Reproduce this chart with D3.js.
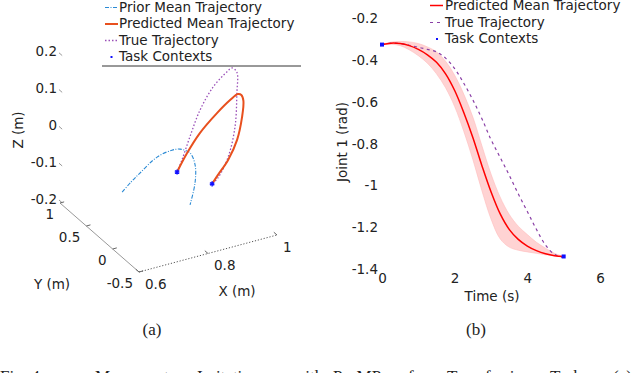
<!DOCTYPE html>
<html><head><meta charset="utf-8">
<script src="https://cdn.jsdelivr.net/npm/d3@7"></script>
<style>body{margin:0;background:#fff}svg{display:block}text{font-family:"DejaVu Sans",sans-serif;fill:#222}</style>
</head><body>
<svg id="c" width="640" height="373"></svg>
<script>
// ---------- Panel (a): 3D trajectories (X, Y, Z in metres) ----------
const priorX = [0.658,0.684,0.702,0.744,0.787,0.803,0.824,0.839,0.831,0.809];
const priorY = [0.2,0.2,0.15,0.1,0.1,0.05,0,0,-0.05,-0.1];
const priorZ = [-0.085,-0.064,-0.038,0.001,0.009,0.014,0.005,-0.032,-0.073,-0.120];
const predX = [0.802,0.831,0.868,0.910,0.948,0.963,0.973,0.979,0.975,0.953,0.927,0.890,0.873];
const predY = [0.1,0.1,0.1,0.05,0.05,0,0,0,0,-0.05,-0.05,-0.1,-0.1];
const predZ = [-0.054,-0.010,0.035,0.085,0.111,0.130,0.125,0.107,0.064,0.014,-0.034,-0.059,-0.079];
const trueX = [0.802,0.816,0.839,0.861,0.899,0.931,0.946,0.960,0.960,0.947,0.927,0.890,0.873];
const trueY = [0.1,0.1,0.1,0.05,0.05,0,0,0,0,-0.05,-0.05,-0.1,-0.1];
const trueZ = [-0.054,-0.025,0.032,0.106,0.159,0.198,0.205,0.190,0.133,0.051,-0.026,-0.067,-0.079];
const ctxX = [0.802,0.873];
const ctxY = [0.1,-0.1];
const ctxZ = [-0.054,-0.079];
const xTicks3 = [0.6,0.8,1], xTickLabels3 = ["0.6","0.8","1"];
const yTicks3 = [-0.5,0,0.5,1], yTickLabels3 = ["-0.5","0","0.5","1"];
const zTicks3 = [-0.2,-0.1,0,0.1,0.2], zTickLabels3 = ["-0.2","-0.1","0","0.1","0.2"];
const legendA = ["Prior Mean Trajectory","Predicted Mean Trajectory","True Trajectory","Task Contexts"];

// ---------- Panel (b): Joint 1 vs time ----------
const jointTimes = [0,0.25,0.5,0.75,1,1.25,1.5,1.75,2,2.25,2.5,2.75,3,3.25,3.5,3.75,4,4.25,4.5,4.75,5];
const predMean = [-0.325,-0.318,-0.320,-0.330,-0.348,-0.374,-0.410,-0.465,-0.545,-0.650,-0.770,-0.905,-1.030,-1.135,-1.210,-1.258,-1.290,-1.312,-1.327,-1.336,-1.340];
const predUpper = [-0.325,-0.313,-0.310,-0.312,-0.320,-0.336,-0.360,-0.405,-0.472,-0.562,-0.672,-0.810,-0.945,-1.055,-1.138,-1.195,-1.235,-1.272,-1.300,-1.325,-1.340];
const predLower = [-0.325,-0.323,-0.330,-0.350,-0.378,-0.414,-0.465,-0.532,-0.622,-0.740,-0.875,-1.025,-1.160,-1.255,-1.295,-1.310,-1.318,-1.325,-1.332,-1.337,-1.340];
const trueJoint = [-0.325,-0.318,-0.320,-0.328,-0.338,-0.348,-0.360,-0.390,-0.440,-0.510,-0.590,-0.680,-0.780,-0.865,-0.950,-1.040,-1.125,-1.210,-1.285,-1.330,-1.345];
const ctxTimes = [0,5];
const ctxJoint = [-0.325,-1.34];
const tTicks = [0,2,4,6], tTickLabels = ["0","2","4","6"];
const jTicks = [-0.2,-0.4,-0.6,-0.8,-1,-1.2,-1.4], jTickLabels = ["-0.2","-0.4","-0.6","-0.8","-1","-1.2","-1.4"];
const legendB = ["Predicted Mean Trajectory","True Trajectory","Task Contexts"];

const svg = d3.select("#c");
svg.append("rect").attr("width",640).attr("height",373).attr("fill","#fff");
const FS = "13.5px";

// ===== Panel (a) =====
const O = [139,272];
const sXx = d3.scaleLinear([0.6,1],[0,138]), sXy = d3.scaleLinear([0.6,1],[0,-37]);
const sYx = d3.scaleLinear([-0.5,1],[0,-79]), sYy = d3.scaleLinear([-0.5,1],[0,-69]);
const sZy = d3.scaleLinear([-0.2,0.2],[0,-147.2]);
const proj = (x,y,z) => [O[0]+sXx(x)+sYx(y), O[1]+sXy(x)+sYy(y)+sZy(z)];
const ga = svg.append("g");

const y0 = proj(0.6,-0.5,-0.2), y1 = proj(0.6,1,-0.2);
ga.append("line").attr("x1",y1[0]).attr("y1",y1[1]).attr("x2",y0[0]).attr("y2",y0[1]).attr("stroke","#999").attr("stroke-width",1);
const x1 = proj(1,-0.5,-0.2);
ga.append("line").attr("x1",y0[0]).attr("y1",y0[1]).attr("x2",x1[0]).attr("y2",x1[1]).attr("stroke","#555").attr("stroke-width",1).attr("stroke-dasharray","1.2,1.8");

zTicks3.forEach((z,i)=>{
  const p = proj(0.6,1,z), q = proj(0.6,0.94,z);
  ga.append("line").attr("x1",p[0]-1).attr("y1",p[1]-3).attr("x2",q[0]-1).attr("y2",q[1]-3).attr("stroke","#999");
  ga.append("text").attr("x",p[0]-3).attr("y",p[1]-3.5).attr("text-anchor","end").attr("dominant-baseline","middle").style("font-size",FS).text(zTickLabels3[i]);
});
yTicks3.forEach((y,i)=>{
  const p = proj(0.6,y,-0.2), q = proj(0.612,y,-0.2);
  ga.append("line").attr("x1",p[0]).attr("y1",p[1]).attr("x2",q[0]).attr("y2",q[1]).attr("stroke","#666");
  ga.append("text").attr("x",p[0]-6).attr("y",p[1]+11.5).attr("text-anchor","end").attr("dominant-baseline","middle").style("font-size",FS).text(yTickLabels3[i]);
});
xTicks3.forEach((x,i)=>{
  const p = proj(x,-0.5,-0.2), q = proj(x,-0.44,-0.2);
  ga.append("line").attr("x1",p[0]).attr("y1",p[1]).attr("x2",q[0]).attr("y2",q[1]).attr("stroke","#666");
  ga.append("text").attr("x",p[0]+6).attr("y",p[1]+12.5).attr("text-anchor","start").attr("dominant-baseline","middle").style("font-size",FS).text(xTickLabels3[i]);
});
ga.append("text").attr("x",52).attr("y",285).attr("text-anchor","middle").attr("dominant-baseline","middle").style("font-size",FS).text("Y (m)");
ga.append("text").attr("x",237).attr("y",292).attr("text-anchor","middle").attr("dominant-baseline","middle").style("font-size",FS).text("X (m)");
ga.append("text").attr("transform","translate(19,130) rotate(-90)").attr("text-anchor","middle").attr("dominant-baseline","middle").style("font-size",FS).text("Z (m)");

const line3 = d3.line().curve(d3.curveCatmullRom.alpha(0.5));
const pts = (X,Y,Z) => X.map((x,i)=>proj(x,Y[i],Z[i]));
ga.append("path").attr("d",line3(pts(priorX,priorY,priorZ))).attr("fill","none").attr("stroke","#2b8ad4").attr("stroke-width",1.1).attr("stroke-dasharray","4,1.5,1,1.5");
ga.append("path").attr("d",line3(pts(trueX,trueY,trueZ))).attr("fill","none").attr("stroke","#9a4fb8").attr("stroke-width",1.3).attr("stroke-dasharray","1.5,2");
ga.append("path").attr("d",line3(pts(predX,predY,predZ))).attr("fill","none").attr("stroke","#e8501e").attr("stroke-width",2);
const star = d3.symbol(d3.symbolAsterisk,18);
pts(ctxX,ctxY,ctxZ).forEach(p=>{
  ga.append("path").attr("d",star()).attr("transform",`translate(${p[0]},${p[1]})`).attr("fill","none").attr("stroke","#1010ff").attr("stroke-width",1.4);
});

const legA = ga.append("g");
const laY = [7.5,24,40.5,57];
legendA.forEach((t,i)=>{
  legA.append("text").attr("x",119).attr("y",laY[i]).attr("dominant-baseline","middle").style("font-size",FS).text(t);
});
legA.append("line").attr("x1",105).attr("x2",118).attr("y1",laY[0]).attr("y2",laY[0]).attr("stroke","#2b8ad4").attr("stroke-width",1.2).attr("stroke-dasharray","4,1.5,1,1.5");
legA.append("line").attr("x1",105).attr("x2",118).attr("y1",laY[1]).attr("y2",laY[1]).attr("stroke","#e8501e").attr("stroke-width",2);
legA.append("line").attr("x1",105).attr("x2",118).attr("y1",laY[2]).attr("y2",laY[2]).attr("stroke","#9a4fb8").attr("stroke-width",1.3).attr("stroke-dasharray","1.5,2");
legA.append("rect").attr("x",110.5).attr("y",laY[3]-1).attr("width",2).attr("height",2).attr("fill","#1010ff");
legA.append("line").attr("x1",102).attr("x2",301).attr("y1",66).attr("y2",66).attr("stroke","#333").attr("stroke-width",1);

// ===== Panel (b) =====
const xs = d3.scaleLinear([0,6],[382,600]);
const ys = d3.scaleLinear([-1.4,-0.2],[269,18.5]);
const gb = svg.append("g");
const ax = gb.append("g").attr("transform","translate(0,271)")
  .call(d3.axisBottom(xs).tickValues(tTicks).tickSize(0).tickPadding(2).tickFormat((d,i)=>tTickLabels[i]));
const ay = gb.append("g").attr("transform","translate(382,0)")
  .call(d3.axisLeft(ys).tickValues(jTicks).tickSize(0).tickPadding(4).tickFormat((d,i)=>jTickLabels[i]));
[ax,ay].forEach(a=>{a.select(".domain").remove(); a.selectAll("text").style("font-size",FS).style("font-family","DejaVu Sans").attr("fill","#222");});
gb.append("text").attr("x",492).attr("y",297).attr("text-anchor","middle").attr("dominant-baseline","middle").style("font-size",FS).text("Time (s)");
gb.append("text").attr("transform","translate(343,142) rotate(-90)").attr("text-anchor","middle").attr("dominant-baseline","middle").style("font-size",FS).text("Joint 1 (rad)");

const band = d3.area().x((d,i)=>xs(jointTimes[i])).y0((d,i)=>ys(predLower[i])).y1((d,i)=>ys(predUpper[i])).curve(d3.curveCatmullRom);
gb.append("path").attr("d",band(jointTimes)).attr("fill","#ffd3d3").attr("stroke","#ffbcbc").attr("stroke-width",0.6);
const lineB = vals => d3.line().x((d,i)=>xs(jointTimes[i])).y((d,i)=>ys(vals[i])).curve(d3.curveCatmullRom)(jointTimes);
gb.append("path").attr("d",lineB(trueJoint)).attr("fill","none").attr("stroke","#8a3fa6").attr("stroke-width",1.2).attr("stroke-dasharray","3,3.5");
gb.append("path").attr("d",lineB(predMean)).attr("fill","none").attr("stroke","#ff0000").attr("stroke-width",1.5);
ctxTimes.forEach((t,i)=>{
  gb.append("rect").attr("x",xs(t)-2).attr("y",ys(ctxJoint[i])-2).attr("width",4).attr("height",4).attr("fill","#1010ff");
});
const lbY = [5.5,22.5,39];
legendB.forEach((t,i)=>{
  gb.append("text").attr("x",445).attr("y",lbY[i]).attr("dominant-baseline","middle").style("font-size",FS).text(t);
});
gb.append("line").attr("x1",430).attr("x2",443).attr("y1",lbY[0]).attr("y2",lbY[0]).attr("stroke","#ff0000").attr("stroke-width",1.5);
gb.append("line").attr("x1",430).attr("x2",443).attr("y1",lbY[1]).attr("y2",lbY[1]).attr("stroke","#8a3fa6").attr("stroke-width",1.2).attr("stroke-dasharray","3,4");
gb.append("rect").attr("x",436).attr("y",lbY[2]-1).attr("width",2).attr("height",2).attr("fill","#1010ff");

// ===== Captions =====
const serif = "'Liberation Serif','Times New Roman',serif";
svg.append("text").attr("x",152).attr("y",335).attr("text-anchor","middle").style("font-family",serif).style("font-size","17px").attr("fill","#111").text("(a)");
svg.append("text").attr("x",476).attr("y",335).attr("text-anchor","middle").style("font-family",serif).style("font-size","17px").attr("fill","#111").text("(b)");
const capWords = ["Fig. 4:","Movement","Imitation","with","ProMPs","for","Transferring","Tasks","(a)"];
const capX = [0,95,197,293,333,408,447,550,613];
capWords.forEach((w,i)=>{
  svg.append("text").attr("x",capX[i]).attr("y",382).style("font-family",serif).style("font-size","17px").attr("fill","#111").text(w);
});
</script>
</body></html>
